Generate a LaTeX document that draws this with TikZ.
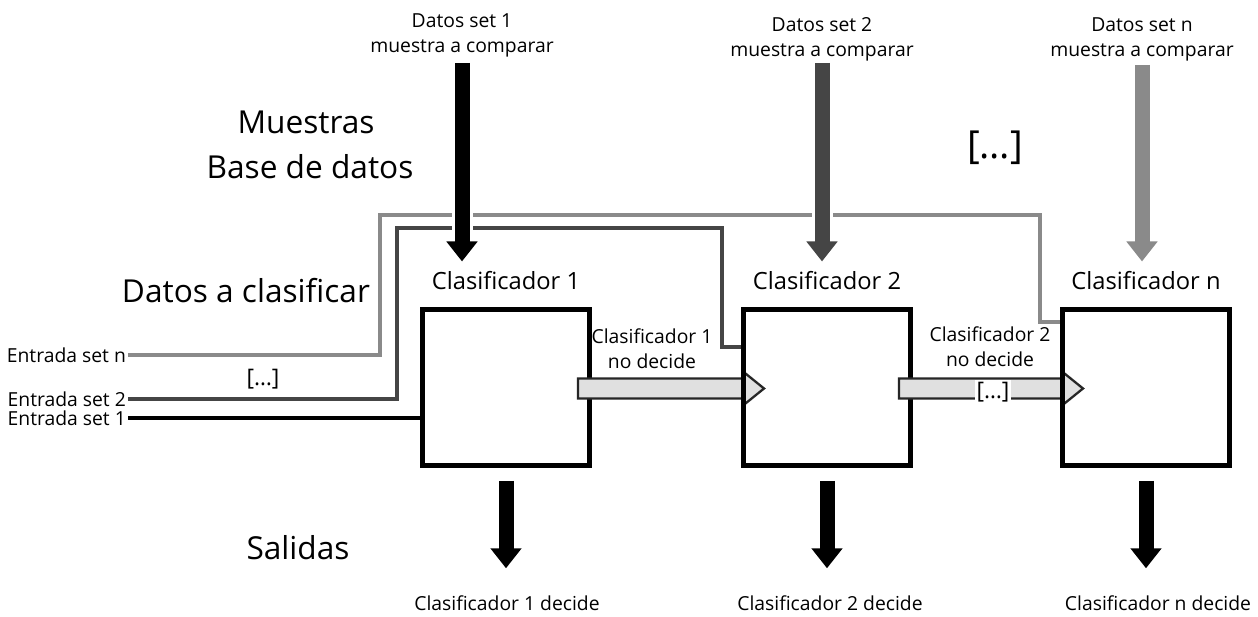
\documentclass[tikz,border=0pt]{standalone}
\usepackage{fontspec}
\setmainfont{Open Sans}
\usetikzlibrary{arrows.meta, calc, positioning}
\definecolor{setngray}{HTML}{8A8A8A}
\definecolor{settwogray}{HTML}{454545}
\definecolor{passgray}{HTML}{E0E0E0}
\newcommand{\bigtxt}{\fontsize{18}{22}\selectfont}
\newcommand{\labtxt}{\fontsize{13.5}{16}\selectfont}
\newcommand{\smalltxt}{\fontsize{11}{14.2}\selectfont}

\begin{document}
\begin{tikzpicture}[x=0.02cm, y=-0.02cm]
	\tikzstyle{clfbox}=[draw=black, line width=0.1cm, minimum width=3.36cm, minimum height=3.14cm, outer sep=0pt]
	\tikzstyle{clfline}=[draw=black, line width=0.1cm]
	\tikzstyle{clflabel}=[font=\labtxt, inner sep=0.2cm]
	\tikzstyle{bigtext}=[font=\bigtxt]
	\tikzstyle{smalltext}=[font=\smalltxt, align=center]
	\tikzstyle{inlabel}=[font=\smalltxt, anchor=east, inner sep=1pt]
	\tikzstyle{downarrow}=[line width=0.3cm, -{Triangle[width=0.6cm, length=0.4cm]}]
	\tikzstyle{gapline}=[white, line width=0.42cm]
	\tikzstyle{feedline}=[line width=0.095cm]
	\tikzstyle{passarrow}=[draw=black!85, line width=1.3pt, fill=passgray]
	
	\useasboundingbox[fill=white] (0,0) rectangle (1258,617);
	
	%% clasificadores
	\node [clfbox] (clf1) at (506,387.5) {};
	\node [clfbox] (clf2) at (827,387.5) {};
	\node [clfbox] (clfn) at (1146,387.5) {};
	\node [clflabel] (lab1) at (506,281) {Clasificador 1};
	\node [clflabel] (lab2) at (827,281) {Clasificador 2};
	\node [clflabel] (labn) at (1146,281) {Clasificador n};
	
	%% textos grandes
	\node [bigtext] (mues) at (306,122) {Muestras};
	\node [bigtext] (bdd) at (310,167) {Base de datos};
	\node [bigtext] (dcl) at (246,291) {Datos a clasificar};
	\node [bigtext] (sal) at (298,548) {Salidas};
	\node [font=\fontsize{22}{26}\selectfont] (dotstop) at (995,148) {[…]};
	
	%% entradas
	\node [inlabel] (inn) at (128,355) {Entrada set n};
	\node [inlabel] (in2) at (128,399) {Entrada set 2};
	\node [inlabel] (in1) at (128,418) {Entrada set 1};
	\node [font=\fontsize{13}{16}\selectfont] (dotsin) at (263,379) {[…]};
	
	\draw [feedline, setngray] (inn.east) -| (380,215) -| (1040,322) -- (clfn.west |- 0,322);
	\draw [feedline, settwogray] (in2.east) -| (397,228) -| (722,347) -- (clf2.west |- 0,347);
	\draw [feedline, black] (in1.east) -- (in1.east -| clf1.west);
	
	%% muestras a comparar
	\node [smalltext] (src1) at (462,35) {Datos set 1\\muestra a comparar};
	\node [smalltext] (src2) at (822,39) {Datos set 2\\muestra a comparar};
	\node [smalltext] (srcn) at (1142,39) {Datos set n\\muestra a comparar};
	
	\draw [gapline] (src1.south) -- ++(0,170);
	\draw [downarrow, black] (src1.south) -- (src1 |- lab1.north);
	\draw [gapline] (src2.south) -- ++(0,160);
	\draw [downarrow, settwogray] ($(src2.south)+(0,-4)$) -- (src2 |- lab2.north);
	\draw [downarrow, setngray] ($(srcn.south)+(0,-2)$) -- (srcn |- labn.north);
	
	%% paso al siguiente clasificador
	\draw [passarrow] ($(clf1.east)+(-12,-9)$) -- ($(clf2.west)+(0,-9)$) -- ($(clf2.west)+(0,-16)$) -- ($(clf2.west)+(21,1)$) -- ($(clf2.west)+(0,18)$) -- ($(clf2.west)+(0,11)$) -- ($(clf1.east)+(-12,11)$) -- cycle;
	\draw [passarrow] ($(clf2.east)+(-12,-9)$) -- ($(clfn.west)+(0,-9)$) -- ($(clfn.west)+(0,-16)$) -- ($(clfn.west)+(21,1)$) -- ($(clfn.west)+(0,18)$) -- ($(clfn.west)+(0,11)$) -- ($(clf2.east)+(-12,11)$) -- cycle;
	\draw [clfline] (clf2.north west) -- (clf2.south west);
	\draw [clfline] (clfn.north west) -- (clfn.south west);
	
	\node [smalltext] (pass1) at (652,349) {Clasificador 1\\no decide};
	\node [smalltext] (pass2) at (990,347) {Clasificador 2\\no decide};
	\node [font=\fontsize{13}{16}\selectfont, fill=white, inner sep=1pt] (dotsmid) at (993,392) {[…]};
	
	%% salidas
	\node [font=\smalltxt] (dec1) at (507,603) {Clasificador 1 decide};
	\node [font=\smalltxt] (dec2) at (830,603) {Clasificador 2 decide};
	\node [font=\smalltxt] (decn) at (1158,603) {Clasificador n decide};
	
	\draw [downarrow, black] ($(clf1.south)+(0,15)$) -- ($(clf1.south |- dec1.north)+(0,-21)$);
	\draw [downarrow, black] ($(clf2.south)+(0,15)$) -- ($(clf2.south |- dec2.north)+(0,-21)$);
	\draw [downarrow, black] ($(clfn.south)+(0,15)$) -- ($(clfn.south |- decn.north)+(0,-21)$);
\end{tikzpicture}
\end{document}
